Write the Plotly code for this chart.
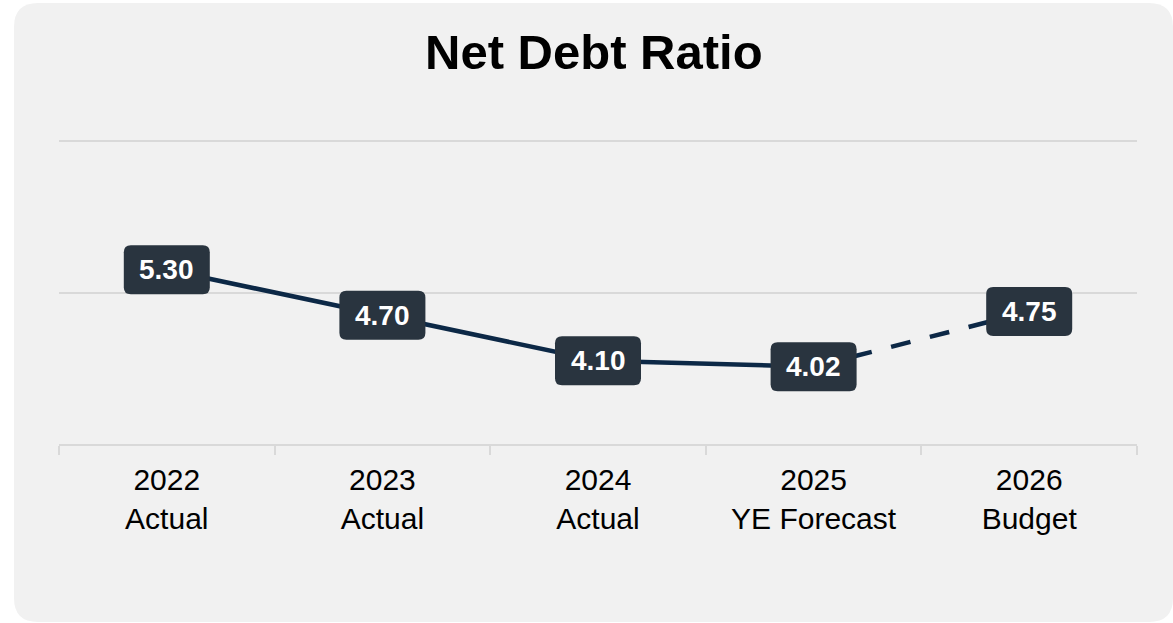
import plotly.graph_objects as go

# Net debt ratio by period
years = ["2022", "2023", "2024", "2025", "2026"]
periods = ["Actual", "Actual", "Actual", "YE Forecast", "Budget"]
ratio = [5.30, 4.70, 4.10, 4.02, 4.75]
solid_idx = [0, 1, 2, 3]      # actual + forecast path
dashed_idx = [3, 4]           # forecast -> budget

categories = [f"{y}<br>{p}" for y, p in zip(years, periods)]

W, H = 1173, 623
ML, MR, MT, MB = 59, 36, 138, 179
PW, PH = W - ML - MR, H - MT - MB
Y_LO, Y_GRID_TOP = 3, 7
PX_PER_UNIT = 303 / (Y_GRID_TOP - Y_LO)
Y_HI = Y_LO + PH / PX_PER_UNIT   # a little headroom so the top gridline shows

LINE = "#0c2846"
BOX = "#29343f"
GRID = "#d9d9d9"
CARD = "#f1f1f1"
FONT = "Liberation Sans, Arial, sans-serif"


def px_to_paper(x, y):
    return (x - ML) / PW, (MT + PH - y) / PH


def rounded_rect_paper(x0, y0, x1, y1, r):
    def P(x, y):
        fx, fy = px_to_paper(x, y)
        return f"{fx:.6f},{fy:.6f}"
    return (f"M{P(x0 + r, y0)} L{P(x1 - r, y0)} Q{P(x1, y0)} {P(x1, y0 + r)} "
            f"L{P(x1, y1 - r)} Q{P(x1, y1)} {P(x1 - r, y1)} "
            f"L{P(x0 + r, y1)} Q{P(x0, y1)} {P(x0, y1 - r)} "
            f"L{P(x0, y0 + r)} Q{P(x0, y0)} {P(x0 + r, y0)} Z")


def rounded_rect_px(w, h, r):
    x0, x1, y0, y1 = -w / 2, w / 2, -h / 2, h / 2
    return (f"M{x0 + r},{y0} L{x1 - r},{y0} Q{x1},{y0} {x1},{y0 + r} "
            f"L{x1},{y1 - r} Q{x1},{y1} {x1 - r},{y1} "
            f"L{x0 + r},{y1} Q{x0},{y1} {x0},{y1 - r} "
            f"L{x0},{y0 + r} Q{x0},{y0} {x0 + r},{y0} Z")


fig = go.Figure()

fig.add_trace(go.Scatter(
    x=[categories[i] for i in solid_idx], y=[ratio[i] for i in solid_idx],
    mode="lines", line=dict(color=LINE, width=4.5), hoverinfo="skip",
    showlegend=False,
))
fig.add_trace(go.Scatter(
    x=[categories[i] for i in dashed_idx], y=[ratio[i] for i in dashed_idx],
    mode="lines", line=dict(color=LINE, width=4.5, dash="20px,20px"),
    hoverinfo="skip", showlegend=False,
))

shapes = [dict(
    type="path", xref="paper", yref="paper", layer="below",
    path=rounded_rect_paper(14, 3, 1173, 622, 24),
    fillcolor=CARD, line=dict(width=0),
)]
annotations = []
for cat, v in zip(categories, ratio):
    shapes.append(dict(
        type="path", xref="x", yref="y", xsizemode="pixel", ysizemode="pixel",
        xanchor=cat, yanchor=v, path=rounded_rect_px(86, 49, 7),
        fillcolor=BOX, line=dict(width=0), layer="above",
    ))
    annotations.append(dict(
        x=cat, y=v, xref="x", yref="y", text=f"<b>{v:.2f}</b>",
        showarrow=False, font=dict(family=FONT, size=28, color="white"),
        xanchor="center", yanchor="middle",
    ))

annotations.append(dict(
    x=(594 - ML) / PW, y=(MT + PH - 52) / PH, xref="paper", yref="paper",
    text="<b>Net Debt Ratio</b>", showarrow=False,
    font=dict(family=FONT, size=49, color="black"),
    xanchor="center", yanchor="middle",
))

fig.update_layout(
    width=W, height=H,
    margin=dict(l=ML, r=MR, t=MT, b=MB, pad=0),
    paper_bgcolor="white", plot_bgcolor="rgba(0,0,0,0)",
    font=dict(family=FONT, color="black"),
    shapes=shapes, annotations=annotations,
    showlegend=False,
)
fig.update_xaxes(
    type="category", categoryorder="array", categoryarray=categories,
    range=[-0.5, len(categories) - 0.5], autorange=False,
    showgrid=False, showline=True, linecolor=GRID, linewidth=2,
    ticks="outside", tickson="boundaries", ticklen=9, tickwidth=2,
    tickcolor=GRID, tickfont=dict(family=FONT, size=30, color="black"),
    ticklabelstandoff=8,
    zeroline=False, fixedrange=True,
)
fig.update_yaxes(
    range=[Y_LO, Y_HI], autorange=False, tickvals=[3, 5, 7],
    showticklabels=False,
    showgrid=True, gridcolor=GRID, gridwidth=1.5, zeroline=False,
    showline=False, fixedrange=True,
)

fig.write_html("out.html")
